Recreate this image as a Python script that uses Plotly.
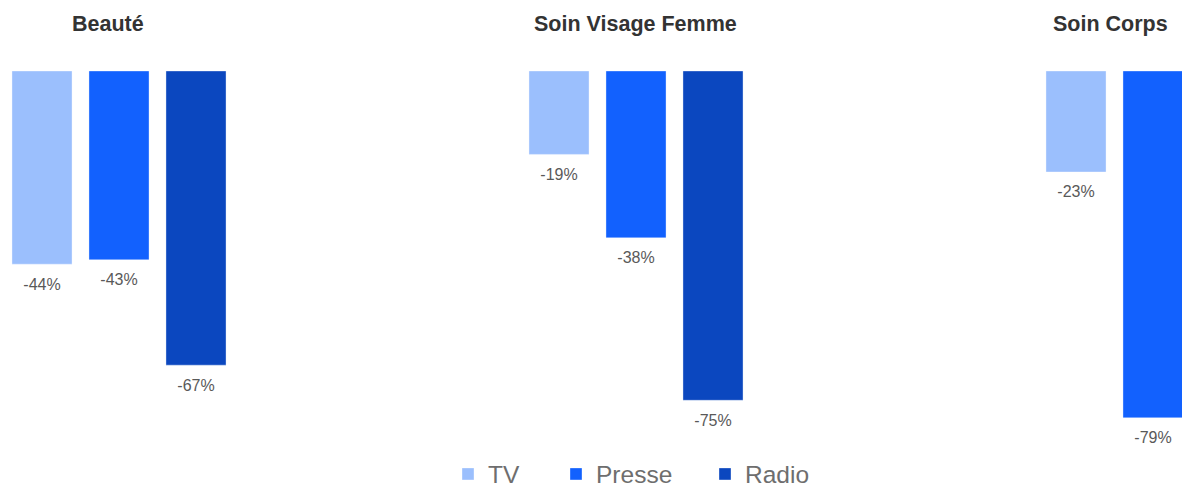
import plotly.graph_objects as go
from plotly.subplots import make_subplots

# ── Data ────────────────────────────────────────────────────────────────────
panels = ['Beauté', 'Soin Visage Femme', 'Soin Corps']
media = ['TV', 'Presse', 'Radio']
tv = [-44, -19, -23]
presse = [-43, -38, -79]
radio = [-67, -75, None]  # third panel's Radio bar falls outside the frame

C = {
    'TV': '#9bbffd',
    'Presse': '#1261fe',
    'Radio': '#0b47bf',
    'title': '#333333',
    'label': '#595959',
    'legend': '#6e6e6e',
}
FONT = 'Liberation Sans, Arial, sans-serif'

W, H = 1182, 487
TOP = 71            # pixel where the zero line sits
PX_PER_PCT = 4.39
PX_PER_UNIT = 77    # pixel step between two bars of a group
FIRST_CENTERS = [42, 559, 1076]   # pixel centre of the TV bar in each panel
LEGEND_X = [448, 556, 705]        # left edge of each legend entry
TITLE_X = [107.5, 635.5, 1110]

series = {'TV': tv, 'Presse': presse, 'Radio': radio}
legend_ids = {'TV': 'legend', 'Presse': 'legend2', 'Radio': 'legend3'}

fig = make_subplots(rows=1, cols=3, shared_yaxes=True, horizontal_spacing=0.02)

for i, panel in enumerate(panels):
    vals = [series[m][i] for m in media]
    for m in media:
        fig.add_trace(go.Bar(
            x=[m], y=[series[m][i]],
            name=m, legend=legend_ids[m], showlegend=(i == 0),
            marker=dict(color=C[m], line=dict(width=1, color='rgba(255,255,255,0.35)')),
            hovertemplate=f'<b>{panel}</b><br>{m}: %{{y}}%<extra></extra>',
        ), row=1, col=i + 1)
    # value labels under the bar ends
    fig.add_trace(go.Scatter(
        x=media, y=vals, mode='markers+text',
        text=[f'{v}%' if v is not None else '' for v in vals],
        textposition='bottom center',
        textfont=dict(size=16, color=C['label'], family=FONT),
        marker=dict(size=20, opacity=0),
        showlegend=False, hoverinfo='skip', cliponaxis=True,
    ), row=1, col=i + 1)

# position each panel's axis in pixels
plot_h = H - TOP
y_range = [-plot_h / PX_PER_PCT, 0]
for i, c0 in enumerate(FIRST_CENTERS):
    left = c0 - PX_PER_UNIT / 2
    right = min(left + 3 * PX_PER_UNIT, W)
    hi = -0.5 + (right - left) / PX_PER_UNIT
    ax = dict(domain=[left / W, right / W], range=[-0.5, hi], visible=False,
              fixedrange=True, categoryorder='array', categoryarray=media)
    fig.update_layout(**{('xaxis' if i == 0 else f'xaxis{i + 1}'): ax})
    fig.update_yaxes(range=y_range, visible=False, domain=[0, 1], row=1, col=i + 1)

for t, px in zip(panels, TITLE_X):
    fig.add_annotation(
        text=f'<b>{t}</b>', x=px / W, y=1 + (TOP - 24) / plot_h,
        xref='paper', yref='paper', xanchor='center', yanchor='middle',
        showarrow=False, font=dict(size=21.5, color=C['title'], family=FONT),
    )

legend_style = dict(
    orientation='h', xanchor='left', y=(H - 474) / plot_h, yanchor='middle',
    font=dict(size=24.5, color=C['legend'], family=FONT),
    bgcolor='rgba(0,0,0,0)',
)

fig.update_layout(
    width=W, height=H,
    plot_bgcolor='white', paper_bgcolor='white',
    margin=dict(l=0, r=0, t=TOP, b=0, autoexpand=False),
    bargap=0.22,
    font=dict(family=FONT),
    legend=dict(x=LEGEND_X[0] / W, **legend_style),
    legend2=dict(x=LEGEND_X[1] / W, **legend_style),
    legend3=dict(x=LEGEND_X[2] / W, **legend_style),
)

fig.write_html('out.html', config={'displayModeBar': False},
               post_script="document.body.style.margin='0';")
